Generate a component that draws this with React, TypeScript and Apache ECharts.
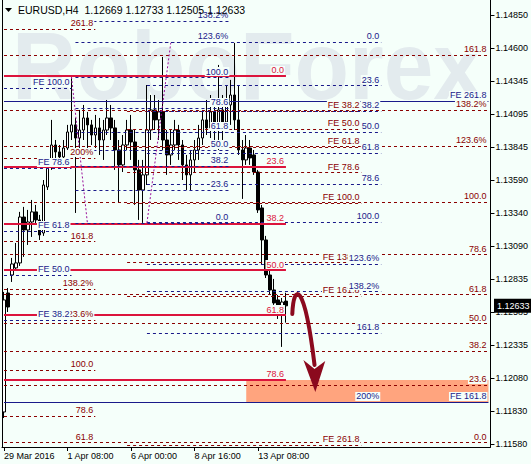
import React, { useEffect, useRef } from 'react';
import * as echarts from 'echarts';

// ---------- data ----------
const symbolTitle = 'EURUSD,H4';
const slotCount = 123; // H4 bar slots across the chart (incl. empty right shift)
const xTickIndex = [0, 16, 32, 48, 64];
const xTickLabels = ['29 Mar 2016', '1 Apr 08:00', '6 Apr 00:00', '8 Apr 16:00', '13 Apr 08:00'];
const yTicks = [1.1485, 1.146, 1.14345, 1.14095, 1.13845, 1.1359, 1.1334, 1.1309, 1.12835, 1.12585, 1.12335, 1.1208, 1.1183, 1.1158];
const yMin = 1.11557;
const yMax = 1.14964;

const opens = [1.11824, 1.12731, 1.12868, 1.12922, 1.12960, 1.13310, 1.13211, 1.13272, 1.13349, 1.13288,
  1.13188, 1.13539, 1.13692, 1.13859, 1.13806, 1.13768, 1.13836, 1.13958, 1.14012, 1.13912,
  1.13973, 1.14065, 1.14012, 1.13935, 1.13989, 1.13897, 1.13973, 1.14065, 1.13989, 1.13821,
  1.13707, 1.13859, 1.13973, 1.13882, 1.13669, 1.13516, 1.13631, 1.13973, 1.14126, 1.14050,
  1.14111, 1.13897, 1.13783, 1.13859, 1.13973, 1.13859, 1.13707, 1.13631, 1.13745, 1.13821,
  1.13912, 1.14050, 1.13989, 1.14111, 1.13973, 1.14126, 1.14034, 1.14164, 1.14240, 1.14050,
  1.13821, 1.13745, 1.13836, 1.13783, 1.13653, 1.13379, 1.13135, 1.12868, 1.12754, 1.12678,
  1.12602, 1.12669];
const highs = [1.12739, 1.12769, 1.12998, 1.13112, 1.13349, 1.13387, 1.13364, 1.13440, 1.13402, 1.13326,
  1.13592, 1.13745, 1.14050, 1.13897, 1.13859, 1.13897, 1.14012, 1.14377, 1.14065, 1.14126,
  1.14164, 1.14111, 1.14050, 1.14088, 1.14065, 1.14050, 1.14202, 1.14164, 1.14050, 1.13897,
  1.13935, 1.14050, 1.14088, 1.13973, 1.13745, 1.13745, 1.14316, 1.14240, 1.14240, 1.14202,
  1.14530, 1.13973, 1.13973, 1.14050, 1.14012, 1.13897, 1.13783, 1.13821, 1.13897, 1.14012,
  1.14126, 1.14202, 1.14240, 1.14202, 1.14469, 1.14240, 1.14316, 1.14355, 1.14637, 1.14316,
  1.13897, 1.13935, 1.13897, 1.13821, 1.13669, 1.13402, 1.13166, 1.12906, 1.12838, 1.12716,
  1.12693, 1.12733];
const lows = [1.11778, 1.12586, 1.12815, 1.12906, 1.12937, 1.13006, 1.13097, 1.13158, 1.13249, 1.13135,
  1.13166, 1.13516, 1.13669, 1.13760, 1.13730, 1.13707, 1.13821, 1.13897, 1.13341, 1.13821,
  1.13897, 1.13821, 1.13859, 1.13836, 1.13783, 1.13745, 1.13935, 1.13897, 1.13669, 1.13417,
  1.13653, 1.13821, 1.13745, 1.13402, 1.13288, 1.13265, 1.13554, 1.13897, 1.13973, 1.13897,
  1.13821, 1.13631, 1.13707, 1.13821, 1.13745, 1.13592, 1.13516, 1.13516, 1.13653, 1.13745,
  1.13859, 1.13935, 1.13912, 1.13897, 1.13821, 1.13897, 1.13973, 1.14012, 1.13973, 1.13783,
  1.13448, 1.13707, 1.13707, 1.13631, 1.13341, 1.12945, 1.12845, 1.12716, 1.12640, 1.12533,
  1.12320, 1.12505];
const closes = [1.12678, 1.12624, 1.12952, 1.12960, 1.13310, 1.13211, 1.13272, 1.13349, 1.13288, 1.13173,
  1.13554, 1.13692, 1.13859, 1.13806, 1.13768, 1.13836, 1.13958, 1.14012, 1.13912, 1.13973,
  1.14065, 1.14012, 1.13935, 1.13989, 1.13897, 1.13973, 1.14065, 1.13989, 1.13821, 1.13707,
  1.13859, 1.13973, 1.13882, 1.13669, 1.13516, 1.13631, 1.13973, 1.14126, 1.14050, 1.14111,
  1.13897, 1.13783, 1.13859, 1.13973, 1.13859, 1.13707, 1.13631, 1.13745, 1.13821, 1.13912,
  1.14050, 1.13989, 1.14111, 1.13973, 1.14126, 1.14034, 1.14164, 1.14240, 1.14050, 1.13821,
  1.13745, 1.13836, 1.13760, 1.13653, 1.13364, 1.13135, 1.12868, 1.12754, 1.12655, 1.12602,
  1.12662, 1.12633];

// Fibonacci objects (levels), spans in bar slots
const retrRightLabels = ['161.8', '138.2%', '123.6%', '100.0', '78.6', '61.8', '50.0', '38.2', '23.6', '0.0'];
const retrRightPrices = [1.14545, 1.14126, 1.13852, 1.13425, 1.13028, 1.12723, 1.12502, 1.12289, 1.1203, 1.11595];
const retrRightSpan = [0, 122];

const feRightLabels = ['FE 38.2', 'FE 50.0', 'FE 61.8', 'FE 78.6', 'FE 100.0', 'FE 138.2', 'FE 161.8', 'FE 261.8'];
const feRightPrices = [1.14118, 1.13981, 1.13844, 1.13653, 1.13417, 1.12967, 1.12708, 1.11573];
const feRightSpan = [31, 90];

const expLeftLabels = ['261.8', '200%', '161.8', '138.2%', '123.6%', '100.0', '78.6', '61.8'];
const expLeftPrices = [1.14743, 1.1376, 1.13127, 1.12762, 1.12525, 1.12144, 1.11794, 1.11595];
const expLeftSpan = [0, 23];

const redLabels = ['0.0', '23.6', '38.2', '50.0', '61.8', '78.6'];
const redPrices = [1.14385, 1.13692, 1.13257, 1.12906, 1.12563, 1.12068];
const redSpan = [0, 71];

const feBlueLabels = ['FE 261.8', 'FE 161.8'];
const feBluePrices = [1.14195, 1.119];
const feBlueSpan = [0, 122];

const blueRightLabels = ['0.0', '23.6', '38.2', '50.0', '61.8', '78.6', '100.0', '123.6%', '138.2%', '161.8', '200%'];
const blueRightPrices = [1.14644, 1.14316, 1.14118, 1.13958, 1.13798, 1.13562, 1.13272, 1.12952, 1.12746, 1.12426, 1.119];
const blueRightSpan = [36, 95];

const blueMidLabels = ['138.2%', '123.6%', '100.0', '78.6', '61.8', '50.0', '38.2', '23.6', '0.0'];
const blueMidPrices = [1.14804, 1.14644, 1.14377, 1.14141, 1.13958, 1.13821, 1.13699, 1.13516, 1.13265];
const blueMidSpan = [18, 57];

const feLeftLabels = ['FE 100.0', 'FE 78.6', 'FE 61.8', 'FE 50.0', 'FE 38.2'];
const feLeftPrices = [1.14294, 1.13684, 1.13204, 1.12868, 1.12525];
const feLeftSpan = [0, 17];

const zigzagA = [[17, 1.14377], [21, 1.13265]];
const zigzagB = [[36, 1.13265], [42, 1.14637]];

const targetZoneSpan = [61, 122];
const targetZonePrices = [1.12068, 1.119];

// forecast arrow (bar slot, price): start, control1, control2, end; head: left, notch, right, tip
const arrowCurve = [[72.6, 1.12571], [72.9, 1.12807], [75.6, 1.1283], [78.2, 1.12182]];
const arrowHead = [[75.4, 1.1222], [78.2, 1.12152], [80.9, 1.12213], [78.4, 1.11977]];

// ---------- styles ----------
const FONT = 'Liberation Sans, Arial, Helvetica, sans-serif';
const BG = '#F5FFFA';
const DARKRED = '#8B0000';
const NAVY = '#1A1A8A';
const CRIMSON = '#DC143C';

function levelLines(labels: string[], prices: number[], span: number[], color: string, type: any, width: number) {
  return prices.map((p, k) => [
    {
      coord: [span[0], p],
      lineStyle: { color, type, width },
      label: {
        show: true,
        position: 'insideEndTop',
        formatter: labels[k],
        color,
        fontSize: 9,
        fontFamily: FONT,
        distance: 1,
        backgroundColor: BG,
        padding: [0, 1, 0, 1],
      },
    },
    { coord: [span[1], p] },
  ]);
}

export default function App() {
  const ref = useRef<HTMLDivElement>(null);

  useEffect(() => {
    if (!ref.current) return;
    const chart = echarts.init(ref.current, undefined, { renderer: 'svg' });
    const categories = Array.from({ length: slotCount }, (_, i) => String(i));
    const candles = opens.map((o, i) => [o, closes[i], lows[i], highs[i]]);
    const last = opens.length - 1;
    const titleText = `${symbolTitle}  ${opens[last].toFixed(5)} ${highs[last].toFixed(5)} ${lows[last].toFixed(5)} ${closes[last].toFixed(5)}`;

    const dotted = (pts: number[][]) => [
      { coord: pts[0], lineStyle: { color: '#9A109A', type: [2, 2], width: 1 }, label: { show: false } },
      { coord: pts[1] },
    ];

    const lines = [
      ...levelLines(retrRightLabels, retrRightPrices, retrRightSpan, DARKRED, [3, 3], 1),
      ...levelLines(feRightLabels, feRightPrices, feRightSpan, DARKRED, [3, 3], 1),
      ...levelLines(expLeftLabels, expLeftPrices, expLeftSpan, DARKRED, [3, 3], 1),
      ...levelLines(redLabels, redPrices, redSpan, CRIMSON, 'solid', 2),
      ...levelLines(feBlueLabels, feBluePrices, feBlueSpan, NAVY, 'solid', 1),
      ...levelLines(blueRightLabels, blueRightPrices, blueRightSpan, NAVY, [3, 3], 1),
      ...levelLines(blueMidLabels, blueMidPrices, blueMidSpan, NAVY, [3, 3], 1),
      ...levelLines(feLeftLabels, feLeftPrices, feLeftSpan, NAVY, [3, 3], 1),
      dotted(zigzagA),
      dotted(zigzagB),
    ];

    const option: any = {
      animation: false,
      backgroundColor: BG,
      textStyle: { fontFamily: FONT },
      grid: { left: 2, right: 38, top: 0, bottom: 17, containLabel: false },
      xAxis: {
        type: 'category',
        data: categories,
        boundaryGap: true,
        axisLine: { show: true, lineStyle: { color: '#000', width: 1 } },
        axisTick: {
          show: true,
          alignWithLabel: true,
          length: 4,
          interval: (i: number) => xTickIndex.includes(i),
          lineStyle: { color: '#000' },
        },
        axisLabel: {
          interval: (i: number) => xTickIndex.includes(i),
          formatter: (_v: string, i: number) => xTickLabels[xTickIndex.indexOf(i)] ?? '',
          align: 'left',
          fontSize: 9,
          color: '#000',
          margin: 4,
          fontFamily: FONT,
        },
        splitLine: { show: false },
      },
      yAxis: [
        {
          type: 'value',
          position: 'right',
          min: yMin,
          max: yMax,
          axisLine: { show: true, lineStyle: { color: '#000' } },
          axisTick: { show: true, length: 4, customValues: yTicks, lineStyle: { color: '#000' } },
          axisLabel: {
            customValues: yTicks,
            formatter: (v: number) => v.toFixed(5),
            fontSize: 9,
            color: '#000',
            margin: 5,
            fontFamily: FONT,
          },
          splitLine: { show: false },
        },
        {
          type: 'value',
          position: 'left',
          min: yMin,
          max: yMax,
          axisLine: { show: true, lineStyle: { color: '#000' } },
          axisTick: { show: false },
          axisLabel: { show: false },
          splitLine: { show: false },
        },
      ],
      series: [
        {
          type: 'candlestick',
          data: candles,
          barWidth: 3,
          itemStyle: {
            color: '#FFFFFF',
            color0: '#000000',
            borderColor: '#000000',
            borderColor0: '#000000',
            borderWidth: 1,
          },
          markArea: {
            silent: true,
            itemStyle: { color: '#FFA47E' },
            data: [[
              { coord: [targetZoneSpan[0], targetZonePrices[0]] },
              { coord: [targetZoneSpan[1], targetZonePrices[1]] },
            ]],
          },
          markLine: {
            silent: true,
            symbol: 'none',
            animation: false,
            data: lines,
          },
        },
      ],
    };
    chart.setOption(option);

    const toPx = (i: number, p: number) => {
      const a = chart.convertToPixel({ gridIndex: 0 } as any, [0, p]) as number[];
      const b = chart.convertToPixel({ gridIndex: 0 } as any, [1, p]) as number[];
      return [a[0] + (b[0] - a[0]) * i, a[1]];
    };
    const c = arrowCurve.map(([i, p]) => toPx(i, p));
    const h = arrowHead.map(([i, p]) => toPx(i, p));
    const lastY = toPx(0, closes[last])[1];

    chart.setOption({
      graphic: [
        {
          type: 'text', x: 12, y: 17, z: 0, silent: true, scaleX: 0.92,
          style: { text: 'RoboForex', fontSize: 97, fontWeight: 'bold', fontFamily: FONT, fill: '#E3EBEE', verticalAlign: 'top' },
        },
        { type: 'polygon', z: 10, shape: { points: [[5, 8], [12, 8], [8.5, 12]] }, style: { fill: '#000' } },
        {
          type: 'text', x: 18, y: 4, z: 10,
          style: { text: titleText, fontSize: 10.5, fontFamily: FONT, fill: '#000', verticalAlign: 'top' },
        },
        {
          type: 'bezierCurve', z: 20,
          shape: { x1: c[0][0], y1: c[0][1], cpx1: c[1][0], cpy1: c[1][1], cpx2: c[2][0], cpy2: c[2][1], x2: c[3][0], y2: c[3][1] },
          style: { stroke: '#8B0A1E', lineWidth: 4, fill: 'none', lineCap: 'round' },
        },
        {
          type: 'polygon', z: 20,
          shape: { points: [h[0], h[1], h[2], h[3]] },
          style: { fill: '#8B0A1E' },
        },
        { type: 'rect', z: 30, shape: { x: 494, y: lastY - 7, width: 37, height: 14 }, style: { fill: '#000' } },
        {
          type: 'text', z: 31, x: 497, y: lastY,
          style: { text: closes[last].toFixed(5), fontSize: 9, fontFamily: FONT, fill: '#FFF', verticalAlign: 'middle' },
        },
      ],
    });

    return () => chart.dispose();
  }, []);

  return <div ref={ref} style={{ position: 'absolute', left: 0, top: 0, width: 531, height: 464 }} />;
}
